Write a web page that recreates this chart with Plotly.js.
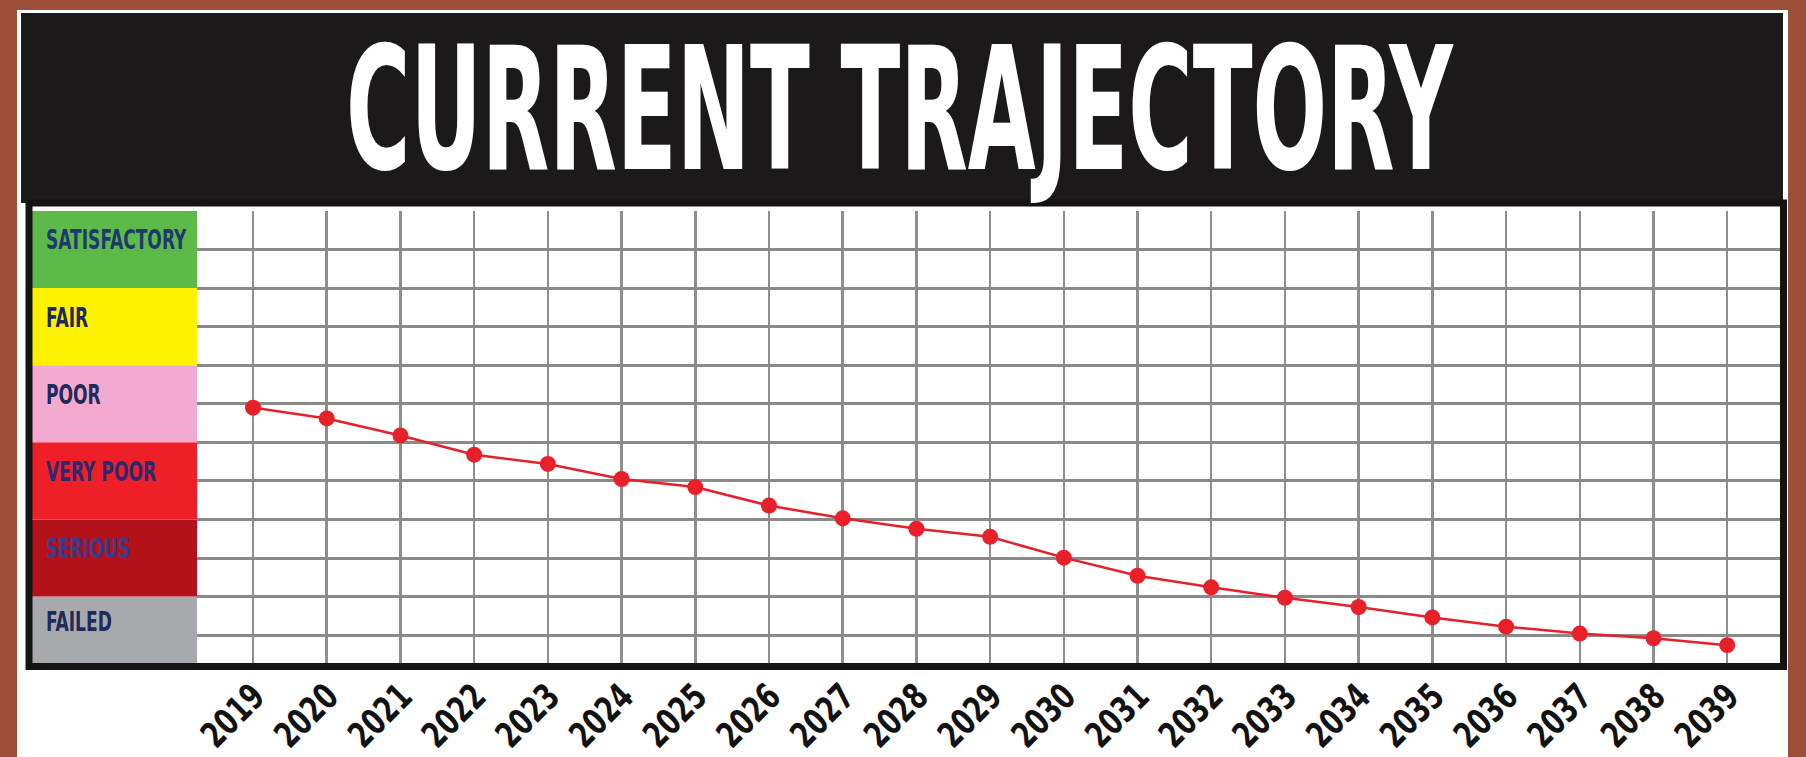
<!DOCTYPE html>
<html>
<head>
<meta charset="utf-8">
<script src="https://cdn.plot.ly/plotly-3.0.1.min.js"></script>
<style>
  html, body { margin: 0; padding: 0; background: #9b5037; }
  #chart { width: 1806px; height: 757px; }
</style>
</head>
<body>
<div id="chart"></div>
<script>
// ---- data ----
var years = [2019, 2020, 2021, 2022, 2023, 2024, 2025, 2026, 2027, 2028, 2029,
             2030, 2031, 2032, 2033, 2034, 2035, 2036, 2037, 2038, 2039];
var condition = [6.90, 6.62, 6.18, 5.68, 5.44, 5.05, 4.84, 4.36, 4.03, 3.76, 3.55,
                 3.01, 2.54, 2.24, 1.97, 1.73, 1.46, 1.22, 1.04, 0.92, 0.74];
var bandNames = ["FAILED", "SERIOUS", "VERY POOR", "POOR", "FAIR", "SATISFACTORY"];
var bandLow   = [0, 2, 4, 6, 8, 10];
var bandHigh  = [2, 4, 6, 8, 10, 12];
var bandColors = ["#a8a9ad", "#b3121b", "#ee1f26", "#f3a9d0", "#fff200", "#5db94a"];
var bandTextColors = ["#1e2a58", "#3a3a8e", "#2a2a70", "#1e2a58", "#1e2a58", "#1e3a6a"];
var titleText = "CURRENT TRAJECTORY";

// ---- layout helpers ----
var W = 1806, H = 757;
var mL = 197, mR = 25, mT = 211, mB = 91;
var pw = W - mL - mR, ph = H - mT - mB;
function px(p) { return (p - mL) / pw; }          // pixel x -> paper x
function py(q) { return (H - mB - q) / ph; }      // pixel y -> paper y
var yMin = 0.2, yMax = 12;

var shapes = [];
shapes.push({type: 'rect', xref: 'paper', yref: 'paper', layer: 'below',
  x0: px(17), x1: px(1788), y0: py(10), y1: py(H + 5),
  fillcolor: '#ffffff', line: {width: 0}});
shapes.push({type: 'rect', xref: 'paper', yref: 'paper', layer: 'below',
  x0: px(21), x1: px(1783), y0: py(203), y1: py(13),
  fillcolor: '#1c191a', line: {width: 0}});
for (var i = 0; i < bandNames.length; i++) {
  shapes.push({type: 'rect', xref: 'paper', yref: 'y', layer: 'below',
    x0: px(31), x1: 0, y0: Math.max(bandLow[i], yMin), y1: bandHigh[i],
    fillcolor: bandColors[i], line: {width: 0}});
}
shapes.push({type: 'rect', xref: 'paper', yref: 'paper', layer: 'above',
  x0: px(29), x1: px(1783.5), y0: py(666.5), y1: py(203),
  fillcolor: 'rgba(0,0,0,0)', line: {color: '#141213', width: 7}});

var narrow = "Liberation Sans Narrow, DejaVu Sans Condensed, Arial Narrow, sans-serif";
var annotations = [];
var fit = [];
annotations.push({text: titleText, xref: 'paper', yref: 'paper',
  x: px(900), y: py(110), xanchor: 'center', yanchor: 'middle', showarrow: false,
  font: {family: narrow, size: 113, color: '#ffffff', weight: 'bold'}});
fit.push({w: 1108, cap: 125, size: 113, anchor: 'center'});
for (var j = 0; j < bandNames.length; j++) {
  var lo = Math.max(bandLow[j], yMin);
  annotations.push({text: bandNames[j], xref: 'paper', yref: 'y',
    x: px(44), y: (lo + bandHigh[j]) / 2 + 0.25, xanchor: 'left', yanchor: 'middle',
    showarrow: false,
    font: {family: narrow, size: 22, color: bandTextColors[j], weight: 'bold'}});
  fit.push({w: null, cap: 20, size: 22, anchor: 'left'});
}

var trace = {
  x: years, y: condition, type: 'scatter', mode: 'lines+markers',
  line: {color: '#e3202b', width: 2.5},
  marker: {color: '#e8202a', size: 16},
  hoverinfo: 'skip', showlegend: false
};

var tickSize = 32;
var layout = {
  width: W, height: H,
  margin: {l: mL, r: mR, t: mT, b: mB, pad: 0},
  paper_bgcolor: '#9b5037',
  plot_bgcolor: '#ffffff',
  showlegend: false,
  xaxis: {
    range: [2018.24, 2039.73], tickmode: 'array', tickvals: years,
    ticktext: years.map(String), tickangle: -45, ticks: '',
    showgrid: true, gridcolor: '#8e8e8e', gridwidth: 2.5,
    zeroline: false, showline: false, fixedrange: true,
    tickfont: {family: narrow, size: tickSize, color: '#121212', weight: 'bold'},
    ticklabelstandoff: 2
  },
  yaxis: {
    range: [yMin, yMax], dtick: 1, tick0: 0, showticklabels: false, ticks: '',
    showgrid: true, gridcolor: '#8a8a8a', gridwidth: 3,
    zeroline: false, showline: false, fixedrange: true
  },
  shapes: shapes,
  annotations: annotations
};

function stretchText(t, cx, cy, sx, sy) {
  var ex = t.getAttribute('transform') || '';
  t.setAttribute('transform', ex + ' translate(' + cx + ',' + cy + ') scale(' + sx + ',' + sy + ') translate(' + (-cx) + ',' + (-cy) + ')');
}

Plotly.newPlot('chart', [trace], layout, {displayModeBar: false, staticPlot: true}).then(function (gd) {
  var groups = gd.querySelectorAll('.infolayer g.annotation');
  var items = [];
  var bandSx = 1;
  groups.forEach(function (g) {
    var idx = +g.getAttribute('data-index');
    var t = g.querySelector('text');
    if (!t || !fit[idx]) return;
    var b = t.getBBox();
    items.push({t: t, b: b, f: fit[idx]});
    if (annotations[idx].text === 'SATISFACTORY') bandSx = 141 / b.width;
  });
  items.forEach(function (it) {
    var b = it.b, f = it.f;
    var sx = f.w ? f.w / b.width : bandSx;
    var sy = f.cap / (0.729 * f.size);
    var cx = f.anchor === 'left' ? b.x : b.x + b.width / 2;
    stretchText(it.t, cx, b.y + b.height / 2, sx, sy);
  });
  // x tick labels: narrower, taller lettering, kept anchored at their end point
  gd.querySelectorAll('.xtick text').forEach(function (t) {
    var b = t.getBBox();
    stretchText(t, b.x + b.width, b.y, 0.9, 1.12);
  });
});
</script>
</body>
</html>
